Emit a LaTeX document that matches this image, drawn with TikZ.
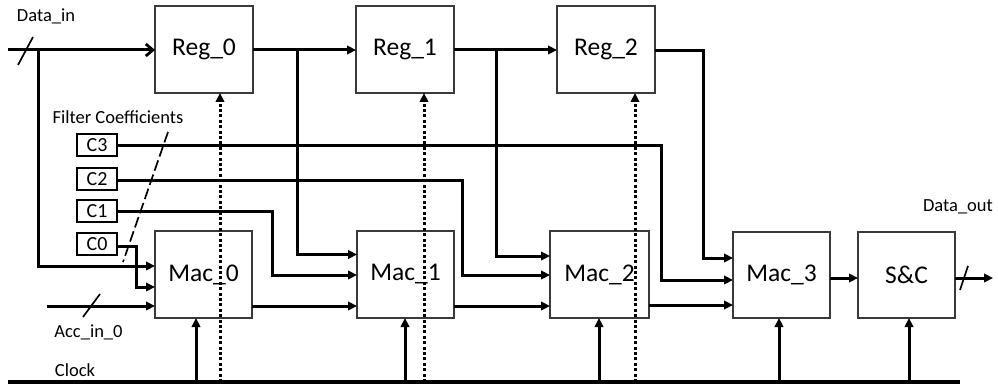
\documentclass[tikz,border=0pt]{standalone}
\usepackage{fontspec}
\setmainfont{Carlito}
\usetikzlibrary{arrows.meta,shadows}
\definecolor{boxline}{HTML}{3A3A3A}
\begin{document}
\begin{tikzpicture}[x=1pt,y=-1pt,
  blk/.style={draw=boxline, line width=2pt, fill=white, minimum width=98pt,
    minimum height=87pt, inner sep=0pt, outer sep=0pt,
    font=\fontsize{25.5}{30}\selectfont,
    drop shadow={shadow xshift=1.2pt, shadow yshift=-1.2pt, fill=black!40, opacity=0.5}},
  cbox/.style={draw=black, line width=2.8pt, minimum width=40pt, minimum height=22pt,
    inner sep=0pt, font=\fontsize{20}{22}\selectfont},
  lbl/.style={inner sep=0pt, font=\fontsize{18.5}{20}\selectfont},
  wire/.style={line width=3pt},
  arr/.style={wire, -{Triangle[length=9pt,width=8.5pt]}},
  barb/.style={wire, -{Straight Barb[length=7pt,width=12pt,line width=2.8pt]}},
  dotw/.style={line width=3pt, dash pattern=on 3pt off 2.4pt, -{Triangle[length=9pt,width=8.5pt]}},
  slash/.style={line width=1.7pt},
  ldash/.style={line width=1.7pt, dash pattern=on 11pt off 4pt}
]
\useasboundingbox (0,0) rectangle (998,385);

% blocks
\node[blk] (Reg0) at (204,49.5) {Reg\_0};
\node[blk] (Reg1) at (405,49.5) {Reg\_1};
\node[blk] (Reg2) at (606,49.5) {Reg\_2};
\node[blk, minimum width=97pt] (Mac0) at (203.5,274.5) {Mac\_0};
\node[blk, minimum width=97pt] (Mac1) at (405.5,274.5) {Mac\_1};
\node[blk, minimum width=99pt] (Mac2) at (599.5,274.5) {Mac\_2};
\node[blk, minimum width=97pt, minimum height=86pt] (Mac3) at (781.5,275) {Mac\_3};
\node[blk, minimum width=97pt, minimum height=86pt] (SC) at (906.5,275) {S\&C};

% coefficient boxes
\node[cbox] (C3) at (97,145) {C3};
\node[cbox] (C2) at (97,179) {C2};
\node[cbox] (C1) at (97,211) {C1};
\node[cbox] (C0) at (97,244) {C0};

% labels
\node[lbl] (lDin) at (46,16) {Data\_in};
\node[lbl] (lFC) at (118,117) {Filter Coefficients};
\node[lbl] (lAcc) at (88.5,332) {Acc\_in\_0};
\node[lbl] (lClk) at (75,370) {Clock};
\node[lbl] (lDout) at (958,207) {Data\_out};

% coordinates
\coordinate (din) at (8,50);
\coordinate (jd) at (38,50);
\coordinate (j0) at (297,50);
\coordinate (j1) at (496,50);
\coordinate (acc) at (47,306);
\coordinate (dout) at (993,278);
\coordinate (clkL) at (8,382);
\coordinate (clkR) at (960,382);

% data path
\draw[barb] (din) -- (Reg0.west |- din);
\draw[arr] (jd) |- (Mac0.west |- 0,266);
\draw[arr] (Reg0.east |- 0,50) -- (Reg1.west |- 0,50);
\draw[arr] (Reg1.east |- 0,50) -- (Reg2.west |- 0,50);
\draw[arr] (j0) |- (Mac1.west |- 0,254.5);
\draw[arr] (j1) |- (Mac2.west |- 0,256);
\draw[arr] (Reg2.east |- 0,51) -| (703,258) -- (Mac3.west |- 0,258);

% coefficients
\draw[arr] (C0.east |- 0,246) -| (136,287) -- (Mac0.west |- 0,287);
\draw[arr] (C1.east) -| (272,275) -- (Mac1.west |- 0,275);
\draw[arr] (C2.east |- 0,180) -| (462,275) -- (Mac2.west |- 0,275);
\draw[arr] (C3.east) -| (661,280) -- (Mac3.west |- 0,280);

% accumulation chain
\draw[arr] (acc) -- (Mac0.west |- acc);
\draw[arr] (Mac0.east |- 0,306) -- (Mac1.west |- 0,306);
\draw[arr] (Mac1.east |- 0,306) -- (Mac2.west |- 0,306);
\draw[arr] (Mac2.east |- 0,305) -- (Mac3.west |- 0,305);
\draw[arr] (Mac3.east |- 0,278) -- (SC.west |- 0,278);
\draw[arr] (SC.east |- dout) -- (dout);

% bus slashes
\draw[slash] (33,37) -- (18,65);
\draw[slash] (100,294) -- (83,317);
\draw[slash] (968,266) -- (960,290);
\draw[ldash] (168,132) -- (123,262);

% clock
\draw[line width=3.2pt] (clkL) -- (clkR);
\draw[arr] (196,382) -- (Mac0.south -| 196,0);
\draw[arr] (405,382) -- (Mac1.south -| 405,0);
\draw[arr] (599,382) -- (Mac2.south -| 599,0);
\draw[arr] (779,382) -- (Mac3.south -| 779,0);
\draw[arr] (909,382) -- (SC.south -| 909,0);
\draw[dotw] (220,382) -- (Reg0.south -| 220,0);
\draw[dotw] (424,382) -- (Reg1.south -| 424,0);
\draw[dotw] (635,382) -- (Reg2.south -| 635,0);
\end{tikzpicture}
\end{document}
